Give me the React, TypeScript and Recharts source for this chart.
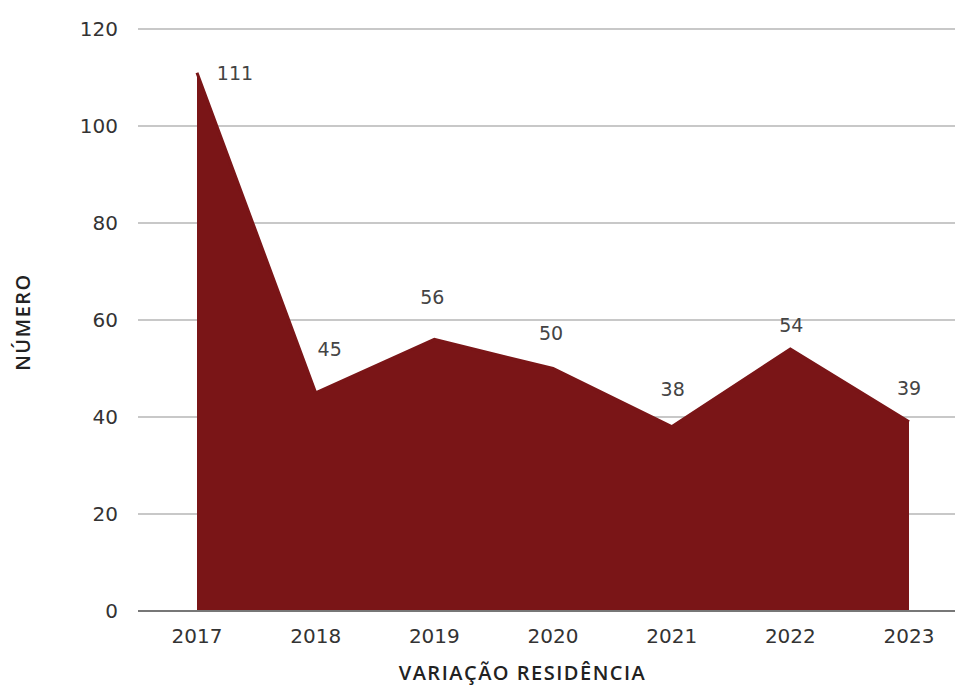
import React from 'react';
import { AreaChart, Area, XAxis, YAxis, CartesianGrid, LabelList } from 'recharts';

const years = ['2017', '2018', '2019', '2020', '2021', '2022', '2023'];
const counts = [111, 45, 56, 50, 38, 54, 39];
const yTicks = [0, 20, 40, 60, 80, 100, 120];

const data = years.map((year, i) => ({ year, value: counts[i] }));

const FONT = '"DejaVu Sans", "Open Sans", sans-serif';
const TITLE_FONT = '"Open Sans", "Noto Sans", sans-serif';
const FILL = '#7a1517';

// per-point nudges so labels sit where the original puts them
const labelShift: Array<[number, number]> = [
  [38, 0],
  [14, -44],
  [-2, -42],
  [-2, -36],
  [1, -38],
  [1, -24],
  [0, -34],
];

const ValueLabel = (props: any) => {
  const { x, y, value, index } = props;
  const [dx, dy] = labelShift[index] || [0, -36];
  return (
    <text
      x={x + dx}
      y={y + dy}
      textAnchor="middle"
      dominantBaseline="central"
      fill="#444"
      fontSize={19}
      fontFamily={FONT}
    >
      {value}
    </text>
  );
};

const App: React.FC = () => {
  return (
    <div style={{ position: 'absolute', left: 0, top: 0, background: '#fff' }}>
      <AreaChart
        width={955}
        height={686}
        data={data}
        margin={{ top: 29, right: 0, bottom: 0, left: 0 }}
      >
        <CartesianGrid vertical={false} stroke="#c8c8c8" strokeWidth={2} />
        <XAxis
          dataKey="year"
          height={75}
          padding={{ left: 59, right: 46 }}
          tickLine={false}
          axisLine={{ stroke: '#777', strokeWidth: 2 }}
          tick={{ fill: '#333', fontSize: 20, fontFamily: FONT }}
          tickMargin={12}
          label={{
            content: ({ viewBox }: any) => (
              <text
                x={viewBox.x + viewBox.width / 2 - 24}
                y={672}
                textAnchor="middle"
                dominantBaseline="central"
                fill="#222"
                fontSize={20}
                fontWeight={600}
                letterSpacing={1.5}
                fontFamily={TITLE_FONT}
              >
                VARIAÇÃO RESIDÊNCIA
              </text>
            ),
          }}
        />
        <YAxis
          width={138}
          domain={[0, 120]}
          ticks={yTicks}
          tickLine={false}
          axisLine={false}
          tickSize={6}
          tickMargin={14}
          tick={{ fill: '#333', fontSize: 20, fontFamily: FONT }}
          label={{
            content: () => (
              <text
                x={22}
                y={322}
                transform="rotate(-90 22 322)"
                textAnchor="middle"
                dominantBaseline="central"
                fill="#222"
                fontSize={20}
                fontWeight={600}
                letterSpacing={1.5}
                fontFamily={TITLE_FONT}
              >
                NÚMERO
              </text>
            ),
          }}
        />
        <Area
          type="linear"
          dataKey="value"
          stroke={FILL}
          strokeWidth={3}
          fill={FILL}
          fillOpacity={1}
          dot={false}
          activeDot={false}
          isAnimationActive={false}
        >
          <LabelList dataKey="value" content={<ValueLabel />} />
        </Area>
      </AreaChart>
    </div>
  );
};

export default App;
